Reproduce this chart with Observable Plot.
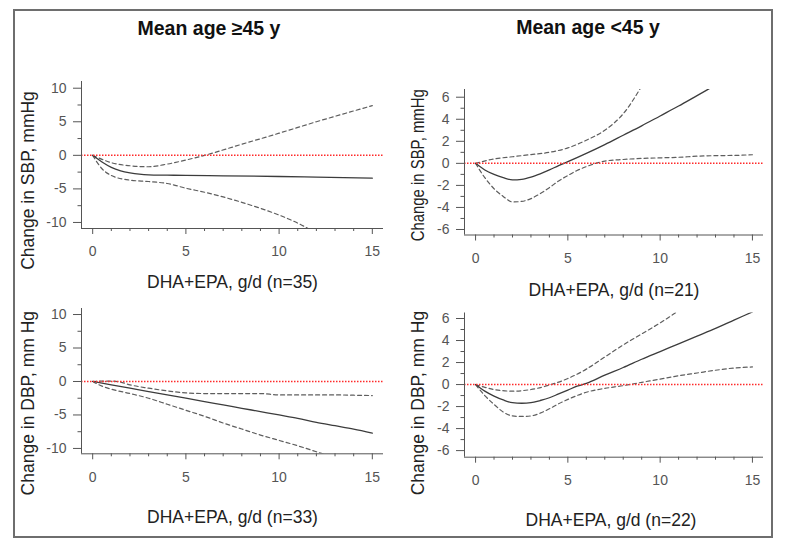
<!DOCTYPE html>
<html><head><meta charset="utf-8">
<script src="https://cdn.jsdelivr.net/npm/d3@7"></script>
<script src="https://cdn.jsdelivr.net/npm/@observablehq/plot@0.6"></script>
<style>
body{margin:0;background:#fff;font-family:"Liberation Sans",Arial,sans-serif;}
#wrap{position:relative;width:789px;height:554px;overflow:hidden;background:#fff;}
#border{position:absolute;left:13px;top:9px;width:760px;height:529px;box-sizing:border-box;border:2px solid #6e6e6e;}
.title{position:absolute;font-weight:bold;font-size:19.5px;color:#111;transform:translate(-50%,-50%);white-space:nowrap;}
.panel{position:absolute;}
</style></head><body>
<div id="wrap">
  <div id="border"></div>
  <div class="title" style="left:209px;top:28px">Mean age ≥45 y</div>
  <div class="title" style="left:588px;top:27px">Mean age &lt;45 y</div>
  <div id="p1" class="panel"></div>
  <div id="p2" class="panel"></div>
  <div id="p3" class="panel"></div>
  <div id="p4" class="panel"></div>
</div>
<script>
// ---- Data ----
const xMajor = [0, 5, 10, 15];
const xMinor = [1, 2, 3, 4, 6, 7, 8, 9, 11, 12, 13, 14];
const yMajorOld = [-10, -5, 0, 5, 10];
const yMinorOld = [-7.5, -2.5, 2.5, 7.5];
const yMajorYoung = [-6, -4, -2, 0, 2, 4, 6];
const yMinorYoung = [-5, -3, -1, 1, 3, 5];

// SBP, mean age >=45 y
const sbpOldEst = [[0,0],[0.5,-1.0],[1,-1.8],[1.5,-2.3],[2,-2.6],[2.5,-2.8],[3,-2.9],[4,-2.95],[5,-3.0],[7,-3.05],[10,-3.15],[12,-3.25],[15,-3.4]];
const sbpOldHi = [[0,0],[0.5,-0.6],[1,-1.1],[2,-1.55],[3,-1.7],[4,-1.3],[5,-0.7],[6,0],[8,1.65],[10,3.3],[12,5.0],[15,7.4]];
const sbpOldLo = [[0,0],[0.5,-2.0],[1,-3.0],[2,-3.7],[3,-3.9],[4,-4.2],[5,-4.9],[6,-5.5],[7,-6.2],[8,-7.0],[9,-7.9],[10,-8.9],[11,-10.1],[12,-11.6]];

// SBP, mean age <45 y
const sbpYoungEst = [[0,0],[0.5,-0.6],[1,-1.0],[1.5,-1.3],[2,-1.5],[2.5,-1.45],[3,-1.25],[3.5,-0.95],[4,-0.6],[4.5,-0.2],[5,0.15],[6,0.9],[7,1.7],[8,2.55],[9,3.4],[10,4.3],[11,5.2],[12,6.15],[13,7.1]];
const sbpYoungHi = [[0,0],[1,0.4],[2,0.6],[3,0.8],[4,1.0],[5,1.4],[6,2.1],[7,3.0],[8,4.5],[9,7.0]];
const sbpYoungLo = [[0,0],[0.5,-1.3],[1,-2.3],[1.5,-3.0],[2,-3.5],[2.5,-3.45],[3,-3.2],[3.5,-2.75],[4,-2.2],[4.5,-1.6],[5,-1.1],[5.5,-0.65],[6,-0.3],[6.5,0],[7,0.2],[8,0.35],[9,0.45],[10,0.5],[11,0.55],[12,0.65],[13,0.7],[14,0.72],[15,0.78]];

// DBP, mean age >=45 y
const dbpOldEst = [[0,0],[1,-0.5],[2,-1.0],[3,-1.5],[4,-2.0],[5,-2.5],[6,-3.0],[7,-3.5],[8,-4.0],[9,-4.5],[10,-5.0],[11,-5.5],[12,-6.1],[13,-6.6],[14,-7.1],[15,-7.7]];
const dbpOldHi = [[0,0],[0.5,0.05],[1,0.05],[1.5,-0.1],[2,-0.5],[3,-1.0],[4,-1.4],[5,-1.7],[6,-1.8],[7,-1.8],[8,-1.8],[9,-1.8],[10,-2.0],[11,-2.0],[12,-2.0],[13,-2.0],[14,-2.05],[15,-2.1]];
const dbpOldLo = [[0,0],[0.5,-0.7],[1,-1.15],[2,-1.8],[3,-2.5],[4,-3.4],[5,-4.3],[6,-5.2],[7,-6.2],[8,-7.1],[9,-8.0],[10,-8.8],[11,-9.6],[12,-10.5],[13,-11.4]];

// DBP, mean age <45 y
const dbpYoungEst = [[0,0],[0.5,-0.6],[1,-1.05],[1.5,-1.4],[2,-1.65],[2.5,-1.7],[3,-1.65],[3.5,-1.45],[4,-1.2],[4.5,-0.85],[5,-0.5],[5.5,-0.15],[6,0.1],[7,0.85],[8,1.55],[9,2.3],[10,3.0],[11,3.7],[12,4.4],[13,5.1],[14,5.85],[15,6.6]];
const dbpYoungHi = [[0,0],[0.5,-0.25],[1,-0.45],[2,-0.6],[3,-0.45],[4,-0.05],[5,0.55],[6,1.4],[7,2.5],[8,3.6],[9,4.6],[10,5.6],[11,6.7]];
const dbpYoungLo = [[0,0],[0.5,-1.0],[1,-1.8],[1.5,-2.5],[2,-2.85],[2.5,-2.9],[3,-2.85],[3.5,-2.6],[4,-2.2],[4.5,-1.75],[5,-1.35],[5.5,-1.0],[6,-0.7],[7,-0.35],[8,-0.1],[8.5,0.05],[9,0.2],[10,0.5],[11,0.8],[12,1.05],[13,1.3],[14,1.5],[15,1.6]];

const xLabels = ["DHA+EPA, g/d (n=35)", "DHA+EPA, g/d (n=21)", "DHA+EPA, g/d (n=33)", "DHA+EPA, g/d (n=22)"];
const yLabels = ["Change in SBP, mmHg", "Change in SBP, mmHg", "Change in DBP, mm Hg", "Change in DBP, mm Hg"];

// ---- Drawing ----
const xDomain = [-0.6, 15.6];
const toObj = a => a.map(([x, y]) => ({x, y}));
const fmt = d => String(d);

function panel(id, cfg) {
  const el = document.getElementById(id);
  el.style.left = cfg.left + "px";
  el.style.top = cfg.top + "px";
  const line = (arr, dashed) => Plot.line(toObj(arr), {
    x: "x", y: "y", curve: "monotone-x", clip: true,
    stroke: dashed ? "#5e5e5e" : "#3c3c3c",
    strokeWidth: dashed ? 1.2 : 1.3,
    strokeDasharray: dashed ? "4,3" : null
  });
  const p = Plot.plot({
    width: cfg.width, height: cfg.height,
    marginTop: cfg.mt, marginBottom: cfg.mb, marginLeft: cfg.ml, marginRight: cfg.mr,
    x: {domain: xDomain, label: null},
    y: {domain: cfg.yDomain, label: null},
    style: {fontFamily: "'Liberation Sans', Arial, sans-serif", fontSize: "14px", color: "#555", background: "transparent", overflow: "visible"},
    marks: [
      line(cfg.hi, true),
      line(cfg.lo, true),
      line(cfg.est, false),
      Plot.ruleY([0], {stroke: "#ff2a2a", strokeWidth: 1.5, strokeDasharray: "1.5,1.5"}),
      Plot.ruleX([xDomain[0]], {stroke: "#555"}),
      Plot.ruleY([cfg.yDomain[0]], {stroke: "#555"}),
      Plot.axisX({ticks: xMajor, tickSize: 6, tickPadding: 12, tickFormat: fmt, label: null, stroke: "#555", fill: "#555"}),
      Plot.axisX({ticks: xMinor, tickSize: 3, fill: "none", label: null, stroke: "#555"}),
      Plot.axisY({ticks: cfg.yMajor, tickSize: 8, tickPadding: 7, tickFormat: fmt, label: null, stroke: "#555", fill: "#555"}),
      Plot.axisY({ticks: cfg.yMinor, tickSize: 3.5, fill: "none", label: null, stroke: "#555"}),
      Plot.text([cfg.xlabel], {frameAnchor: "bottom", textAnchor: "middle", dx: cfg.xlabDx || 0, dy: cfg.xlabOff, lineAnchor: "middle", fontSize: 17.5, fill: "#222"}),
      Plot.text([cfg.ylabel], {frameAnchor: "left", textAnchor: "middle", dx: cfg.ylabOff, dy: cfg.ylabDy, rotate: -90, lineAnchor: "middle", fontSize: cfg.ylabSize || 17.5, fill: "#222"})
    ]
  });
  if (cfg.ylabLen) {
    d3.select(p).selectAll("text")
      .filter(function() { return this.textContent === cfg.ylabel; })
      .attr("textLength", cfg.ylabLen)
      .attr("lengthAdjust", "spacingAndGlyphs");
  }
  el.appendChild(p);
}

panel("p1", {left: 14, top: 40, width: 378, height: 260, mt: 41, mb: 72, ml: 67, mr: 9,
  yDomain: [-10.9, 11], yMajor: yMajorOld, yMinor: yMinorOld,
  est: sbpOldEst, hi: sbpOldHi, lo: sbpOldLo,
  xlabel: xLabels[0], ylabel: yLabels[0], xlabOff: 53.7, ylabOff: -53, ylabDy: 25.5});

panel("p2", {left: 396, top: 40, width: 376, height: 260, mt: 49, mb: 65.5, ml: 68, mr: 9,
  yDomain: [-6.5, 6.7], yMajor: yMajorYoung, yMinor: yMinorYoung,
  est: sbpYoungEst, hi: sbpYoungHi, lo: sbpYoungLo,
  xlabel: xLabels[1], ylabel: yLabels[1], xlabOff: 55.5, ylabOff: -46, ylabDy: 3, ylabSize: 18.5, ylabLen: 152});

panel("p3", {left: 14, top: 300, width: 378, height: 236, mt: 8, mb: 82.7, ml: 67, mr: 9,
  yDomain: [-10.8, 10.9], yMajor: yMajorOld, yMinor: yMinorOld,
  est: dbpOldEst, hi: dbpOldHi, lo: dbpOldLo,
  xlabel: xLabels[2], ylabel: yLabels[2], xlabOff: 63.4, ylabOff: -53, ylabDy: 22});

panel("p4", {left: 396, top: 300, width: 376, height: 236, mt: 12.5, mb: 79.3, ml: 68, mr: 9,
  yDomain: [-6.6, 6.5], yMajor: yMajorYoung, yMinor: yMinorYoung,
  est: dbpYoungEst, hi: dbpYoungHi, lo: dbpYoungLo,
  xlabel: xLabels[3], ylabel: yLabels[3], xlabOff: 63.3, xlabDx: -3, ylabOff: -46, ylabDy: 18});
</script>
</body></html>
